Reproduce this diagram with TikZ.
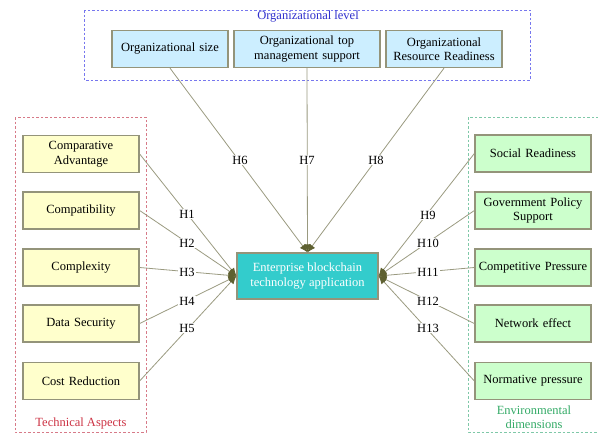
\documentclass[tikz,border=0pt]{standalone}
\usepackage{fontspec}
\setmainfont{Liberation Serif}
\usetikzlibrary{arrows.meta}
\definecolor{edgec}{HTML}{9A9A80}
\definecolor{tipc}{HTML}{5E6030}
\definecolor{bordc}{HTML}{94947A}
\definecolor{yelf}{HTML}{FFFFCC}
\definecolor{bluf}{HTML}{CCEEFF}
\definecolor{grnf}{HTML}{CCFFCC}
\definecolor{tealf}{HTML}{33CCCC}
\definecolor{blued}{HTML}{7777EE}
\definecolor{redd}{HTML}{D77A88}
\definecolor{grnd}{HTML}{7FC8A8}
\definecolor{bluet}{HTML}{3030CC}
\definecolor{redt}{HTML}{CC3344}
\definecolor{grnt}{HTML}{33AA66}
\begin{document}
\begin{tikzpicture}[x=1pt,y=-1pt,
  font=\fontsize{12.5}{14.5}\selectfont,
  factor/.style={draw=bordc,line width=1.3pt,minimum width=116pt,minimum height=37pt,
     align=center,inner sep=1pt,text width=114pt},
  lbox/.style={factor,fill=yelf},
  tbox/.style={factor,fill=bluf},
  rbox/.style={factor,fill=grnf},
  group/.style={line width=1pt,dash pattern=on 2.5pt off 2pt},
  conn/.style={draw=edgec,line width=0.8pt,-{Latex[length=8pt,width=7pt,color=tipc,fill=tipc]}},
  hlab/.style={fill=white,inner sep=1pt,font=\fontsize{12.5}{14}\selectfont}
  ]
\useasboundingbox (0,0) rectangle (598,437);
% group frames
\draw[group,draw=blued] (84,10) rectangle (530,80);
\draw[group,draw=redd] (15,117) rectangle (146,432);
\draw[group,draw=grnd] (468,117) rectangle (603,432);
\node[text=bluet] (tlevel) at (308,17) {Organizational level};
\node[text=redt] (tasp) at (81,423) {Technical Aspects};
\node[text=grnt,align=center,font=\fontsize{12.5}{14}\selectfont] (tenv) at (534,417) {Environmental\\dimensions};
% center
\node[draw=bordc,line width=1.3pt,fill=tealf,text=white,minimum width=141pt,minimum height=46pt,align=center] (c) at (307.5,276) {Enterprise blockchain\\technology application};
% top
\node[tbox,minimum width=116pt,text width=114pt] (t1) at (170,49) {Organizational size};
\node[tbox,minimum width=146pt,text width=144pt] (t2) at (307,49) {Organizational top\\management support};
\node[tbox] (t3) at (444,49) {Organizational\\Resource Readiness};
% left
\node[lbox] (l1) at (81,154) {Comparative\\Advantage};
\node[lbox] (l2) at (81,210.5) {Compatibility};
\node[lbox] (l3) at (81,267.5) {Complexity};
\node[lbox] (l4) at (81,323.5) {Data Security};
\node[lbox] (l5) at (81,381) {Cost Reduction};
% right
\node[rbox] (r1) at (533,153.5) {Social Readiness};
\node[rbox] (r2) at (533,210.5) {Government Policy\\Support};
\node[rbox] (r3) at (533,267.5) {Competitive Pressure};
\node[rbox] (r4) at (533,323.5) {Network effect};
\node[rbox] (r5) at (533,381) {Normative pressure};
% connectors
\coordinate (cw) at (c.west);
\coordinate (ce) at (c.east);
\coordinate (cn) at (c.north);
\draw[conn] (l1.east) -- (cw);
\draw[conn] (l2.east) -- (cw);
\draw[conn] (l3.east) -- (cw);
\draw[conn] (l4.east) -- (cw);
\draw[conn] (l5.east) -- (cw);
\draw[conn] (t1.south) -- (cn);
\draw[conn] (t2.south) -- (cn);
\draw[conn] (t3.south) -- (cn);
\draw[conn] (r1.west) -- (ce);
\draw[conn] (r2.west) -- (ce);
\draw[conn] (r3.west) -- (ce);
\draw[conn] (r4.west) -- (ce);
\draw[conn] (r5.west) -- (ce);
% labels
\node[hlab] (h1) at (187,214) {H1};
\node[hlab] (h2) at (187,243) {H2};
\node[hlab] (h3) at (187,272) {H3};
\node[hlab] (h4) at (187,301) {H4};
\node[hlab] (h5) at (187,328) {H5};
\node[hlab] (h6) at (240,160) {H6};
\node[hlab] (h7) at (307,160) {H7};
\node[hlab] (h8) at (376,160) {H8};
\node[hlab] (h9) at (428,215) {H9};
\node[hlab] (h10) at (428,243) {H10};
\node[hlab] (h11) at (428,272) {H11};
\node[hlab] (h12) at (428,301) {H12};
\node[hlab] (h13) at (428,328) {H13};
\end{tikzpicture}
\end{document}
